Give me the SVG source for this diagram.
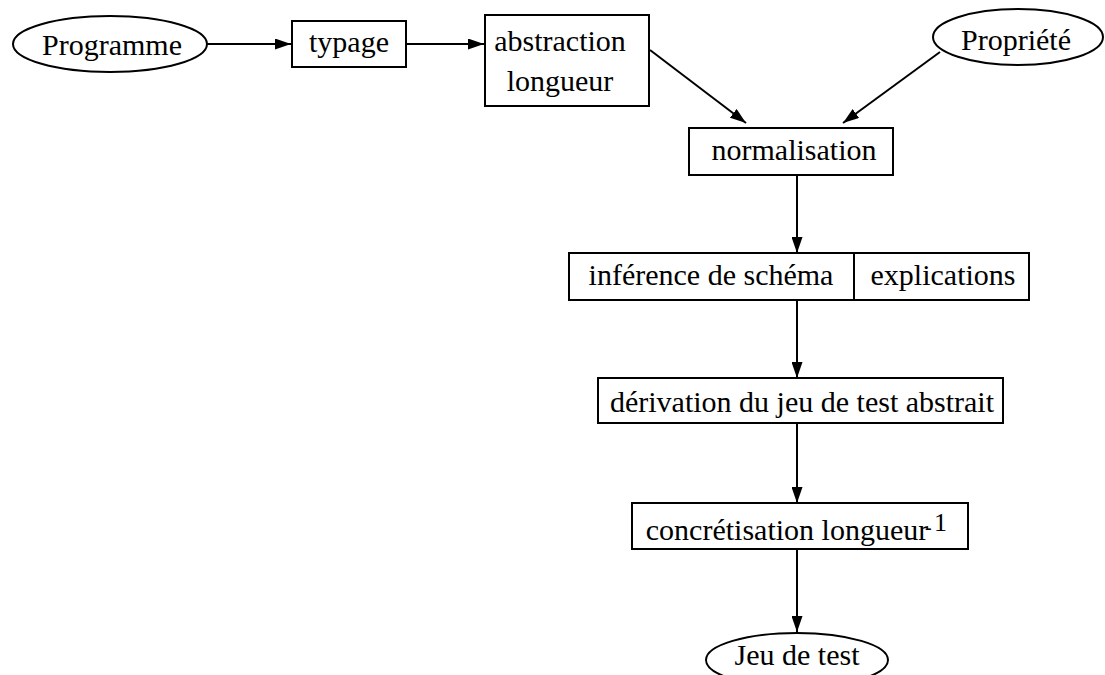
<svg xmlns="http://www.w3.org/2000/svg" width="1105" height="675" viewBox="0 0 1105 675">
<defs>
<style>
.n{fill:#fff;stroke:#000;stroke-width:2}
.t{font-family:"Liberation Serif","Times New Roman",serif;font-size:30px;fill:#000;text-anchor:middle}
.e{stroke:#000;stroke-width:2;fill:none;marker-end:url(#ah)}
</style>
<marker id="ah" markerWidth="16" markerHeight="11" refX="16" refY="5.5" orient="auto" markerUnits="userSpaceOnUse">
<path d="M0,0 L16,5.5 L0,11 Z" fill="#000"/>
</marker>
</defs>
<rect width="1105" height="675" fill="#fff"/>
<g id="connectors">
<line class="e" x1="207" y1="44" x2="291" y2="44"/>
<line class="e" x1="406" y1="44" x2="484" y2="44"/>
<line class="e" x1="650" y1="50" x2="746" y2="123"/>
<line class="e" x1="940" y1="52" x2="843" y2="123"/>
<line class="e" x1="797" y1="175" x2="797" y2="253"/>
<line class="e" x1="797" y1="300" x2="797" y2="378"/>
<line class="e" x1="797" y1="423" x2="797" y2="503"/>
<line class="e" x1="797" y1="549" x2="797" y2="632"/>
</g>
<g id="programme">
<ellipse class="n" cx="110" cy="44" rx="97" ry="28"/>
<text class="t" font-family="Liberation Serif, serif" x="112" y="55">Programme</text>
</g>
<g id="typage">
<rect class="n" x="292" y="21" width="114" height="46"/>
<text class="t" font-family="Liberation Serif, serif" x="349" y="52">typage</text>
</g>
<g id="abstraction">
<rect class="n" x="485" y="15" width="164" height="91"/>
<text class="t" font-family="Liberation Serif, serif" x="560" y="51">abstraction</text>
<text class="t" font-family="Liberation Serif, serif" x="560" y="91">longueur</text>
</g>
<g id="propriete">
<ellipse class="n" cx="1018" cy="37" rx="85" ry="28"/>
<text class="t" font-family="Liberation Serif, serif" x="1016" y="50">Propriété</text>
</g>
<g id="normalisation">
<rect class="n" x="689" y="128" width="204" height="47"/>
<text class="t" font-family="Liberation Serif, serif" x="794" y="160">normalisation</text>
</g>
<g id="inference">
<rect class="n" x="569" y="253" width="460" height="47"/>
<line x1="854" y1="253" x2="854" y2="300" stroke="#000" stroke-width="2"/>
<text class="t" font-family="Liberation Serif, serif" x="711" y="285">inférence de schéma</text>
<text class="t" font-family="Liberation Serif, serif" x="943" y="285">explications</text>
</g>
<g id="derivation">
<rect class="n" x="598" y="378" width="405" height="45"/>
<text class="t" font-family="Liberation Serif, serif" x="802" y="412">dérivation du jeu de test abstrait</text>
</g>
<g id="concretisation">
<rect class="n" x="632" y="503" width="336" height="46"/>
<text class="t" font-family="Liberation Serif, serif" x="787" y="540">concrétisation longueur</text>
<text font-family="Liberation Serif, serif" font-size="20" x="925" y="534">-</text>
<text font-family="Liberation Serif, serif" font-size="26" x="934" y="531">1</text>
</g>
<g id="jeu">
<ellipse class="n" cx="797" cy="660" rx="91" ry="27"/>
<text class="t" font-family="Liberation Serif, serif" x="797" y="665">Jeu de test</text>
</g>
</svg>
